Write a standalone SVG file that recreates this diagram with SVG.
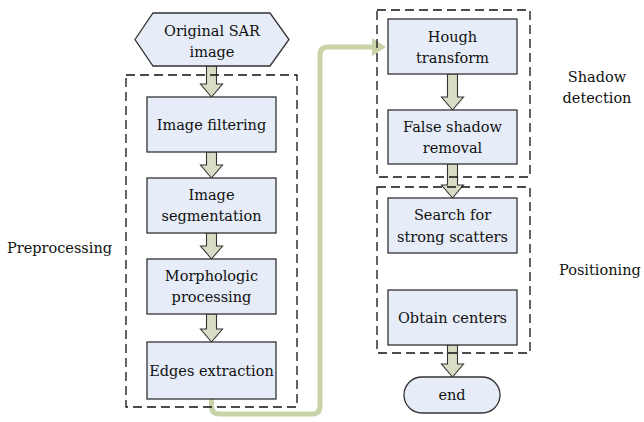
<svg xmlns="http://www.w3.org/2000/svg" width="644" height="422" viewBox="0 0 644 422">
<style>
.box{fill:#E6ECF8;stroke:#333;stroke-width:1.3}
.grp{fill:none;stroke:#111;stroke-width:1.3;stroke-dasharray:9 5}
.arr{fill:#DADDC6;stroke:#333;stroke-width:1.1;stroke-linejoin:miter}
text{font-family:"DejaVu Serif","Liberation Serif",serif;font-size:14.5px;fill:#111}
.t{text-anchor:middle}
.link{fill:none;stroke:#C9D3A8;stroke-width:5;stroke-linejoin:round}
</style>
<rect width="644" height="422" fill="#fff"/>
<g id="connectors">
<path class="link" d="M211.5,399 V406 Q211.5,414 219.5,414 H312 Q320,414 320,406 V55 Q320,47 328,47 H373"/>
<polygon points="372,38 386,47 372,56" fill="#C9D3A8"/>
<path class="arr" d="M206.5,66 H216.5 V84 H222.5 L211.5,97 L200.5,84 H206.5 Z"/>
<path class="arr" d="M206.5,152 H216.5 V165 H222.5 L211.5,178 L200.5,165 H206.5 Z"/>
<path class="arr" d="M206.5,233 H216.5 V246 H222.5 L211.5,259 L200.5,246 H206.5 Z"/>
<path class="arr" d="M206.5,314 H216.5 V329 H222.5 L211.5,342 L200.5,329 H206.5 Z"/>
<path class="arr" d="M447.5,74 H457.5 V97 H463.5 L452.5,110 L441.5,97 H447.5 Z"/>
<path class="arr" d="M447.5,164 H457.5 V185 H463.5 L452.5,198 L441.5,185 H447.5 Z"/>
<path class="arr" d="M447.5,345 H457.5 V364 H463.5 L452.5,377 L441.5,364 H447.5 Z"/>
</g>
<g id="group-preprocessing">
<rect class="grp" x="126" y="75" width="171" height="332"/>
<text x="7" y="253">Preprocessing</text>
</g>
<g id="group-shadow">
<rect class="grp" x="377" y="10" width="153" height="167"/>
<text class="t" x="597" y="82">Shadow</text>
<text class="t" x="597" y="103">detection</text>
</g>
<g id="group-positioning">
<rect class="grp" x="377" y="187" width="153" height="166"/>
<text x="559" y="275">Positioning</text>
</g>
<g id="n-original">
<polygon class="box" points="135,39.5 153,13 270,13 289,39.5 270,66 153,66"/>
<text class="t" x="212" y="36">Original SAR</text>
<text class="t" x="212" y="57">image</text>
</g>
<g id="n-filtering">
<rect class="box" x="147" y="97" width="129" height="55"/>
<text class="t" x="211.5" y="130">Image filtering</text>
</g>
<g id="n-segmentation">
<rect class="box" x="147" y="178" width="129" height="55"/>
<text class="t" x="211.5" y="200">Image</text>
<text class="t" x="211.5" y="221">segmentation</text>
</g>
<g id="n-morphologic">
<rect class="box" x="147" y="259" width="129" height="55"/>
<text class="t" x="211.5" y="281">Morphologic</text>
<text class="t" x="211.5" y="302">processing</text>
</g>
<g id="n-edges">
<rect class="box" x="147" y="342" width="129" height="57"/>
<text class="t" x="211.5" y="376">Edges extraction</text>
</g>
<g id="n-hough">
<rect class="box" x="388" y="19" width="129" height="55"/>
<text class="t" x="452.5" y="42">Hough</text>
<text class="t" x="452.5" y="63">transform</text>
</g>
<g id="n-false">
<rect class="box" x="388" y="110" width="129" height="54"/>
<text class="t" x="452.5" y="132">False shadow</text>
<text class="t" x="452.5" y="153">removal</text>
</g>
<g id="n-search">
<rect class="box" x="388" y="198" width="129" height="55"/>
<text class="t" x="452.5" y="220">Search for</text>
<text class="t" x="452.5" y="242">strong scatters</text>
</g>
<g id="n-obtain">
<rect class="box" x="388" y="290" width="129" height="55"/>
<text class="t" x="452.5" y="323">Obtain centers</text>
</g>
<g id="n-end">
<rect class="box" x="404" y="377" width="96" height="36" rx="18" ry="18"/>
<text class="t" x="452" y="400">end</text>
</g>
</svg>
